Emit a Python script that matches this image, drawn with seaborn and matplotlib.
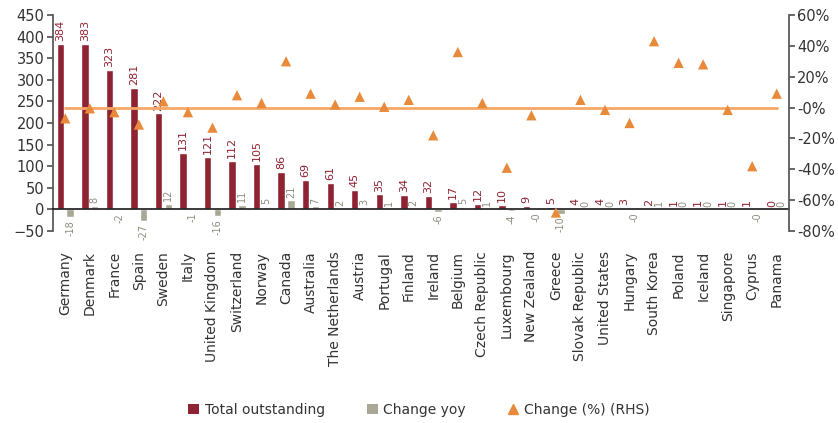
import matplotlib
matplotlib.use("Agg")
import matplotlib.pyplot as plt
import matplotlib.ticker as mticker
from matplotlib.lines import Line2D
from matplotlib.patches import Patch
import numpy as np
import pandas as pd
import seaborn as sns

# Covered bonds outstanding by country (EUR bn), yearly change and change in %
countries = [
    "Germany", "Denmark", "France", "Spain", "Sweden", "Italy", "United Kingdom",
    "Switzerland", "Norway", "Canada", "Australia", "The Netherlands", "Austria",
    "Portugal", "Finland", "Ireland", "Belgium", "Czech Republic", "Luxembourg",
    "New Zealand", "Greece", "Slovak Republic", "United States", "Hungary",
    "South Korea", "Poland", "Iceland", "Singapore", "Cyprus", "Panama",
]
total_outstanding = [384, 383, 323, 281, 222, 131, 121, 112, 105, 86, 69, 61, 45,
                     35, 34, 32, 17, 12, 10, 9, 5, 4, 4, 3, 2, 1, 1, 1, 1, 0]
change_yoy = [-18, 8, -2, -27, 12, -1, -16, 11, 5, 21, 7, 2, 3,
              1, 2, -6, 5, 1, -4, -0.4, -10, 0, 0, -0.3, 1, 0, 0, 0, -0.4, 0]
change_pct = [-7, -0.5, -3, -11, 4, -3, -13, 8, 3, 30, 9, 2, 7,
              0.5, 5, -18, 36, 3, -39, -5, -68, 5, -1.5, -10, 43, 29, 28, -1.5, -38, 9]

series_names = ["Total outstanding", "Change yoy", "Change (%) (RHS)"]
RED = "#8E2333"
GREY = "#A9A795"
ORANGE = "#E88A3A"
LINE_ORANGE = "#F4A868"
TEXT = "#333333"

sns.set_theme(style="white")
plt.rcParams["font.family"] = ["DejaVu Sans"]

n = len(countries)
fig = plt.figure(figsize=(8.38, 4.23), dpi=100)
ax = fig.add_axes([53 / 838, 1 - 231 / 423, (789 - 53) / 838, (231 - 15) / 423])

bars = pd.DataFrame({
    "Country": countries * 2,
    "Value": total_outstanding + change_yoy,
    "Series": [series_names[0]] * n + [series_names[1]] * n,
})
sns.barplot(data=bars, x="Country", y="Value", hue="Series", order=countries,
            hue_order=series_names[:2], palette=[RED, GREY], width=0.8, gap=0.25,
            saturation=1, errorbar=None, legend=False, ax=ax)

ax.bar_label(ax.containers[0], labels=[f"{v:.0f}" for v in total_outstanding],
             rotation=90, padding=2, fontsize=8, color=RED)
ax.bar_label(ax.containers[1], labels=[f"{v:.0f}" for v in change_yoy],
             rotation=90, padding=2, fontsize=7, color="#8f8d80")

ax.set_ylim(-50, 450)
ax.set_yticks(np.arange(-50, 451, 50))
ax.set_xlabel("")
ax.set_ylabel("")

# right-hand axis for the percentage change
ax2 = ax.twinx()
ax2.set_ylim(-0.8, 0.6)
ax2.axhline(0, xmin=0.5 / n, xmax=(n - 0.5) / n, color=LINE_ORANGE, lw=2, zorder=1)
pct = pd.DataFrame({"Country": countries, "Change": np.array(change_pct) / 100})
sns.scatterplot(data=pct, x="Country", y="Change", marker="^", s=55, color=ORANGE,
                edgecolor="none", legend=False, zorder=3, ax=ax2)
ax2.set_yticks(np.arange(-0.8, 0.61, 0.2))
ax2.yaxis.set_major_formatter(mticker.FuncFormatter(lambda v, p: f"{v * 100:.0f}%"))
ax2.set_xlabel("")
ax2.set_ylabel("")

ax.set_xlim(-0.5, n - 0.5)
ax.set_xticks(range(n))
ax.set_xticklabels(countries)
ax.set_xticks(np.arange(-0.5, n, 1), minor=True)

for a in (ax, ax2):
    a.grid(False)
    a.spines["top"].set_visible(False)
ax.spines["right"].set_visible(False)
ax2.spines["left"].set_visible(False)
ax2.spines["bottom"].set_visible(False)
ax.spines["bottom"].set_position(("data", 0))
ax.spines["bottom"].set_color("#222222")
ax.spines["left"].set_color("#555555")
ax2.spines["right"].set_color("#555555")

ax.tick_params(axis="x", which="major", length=0, pad=30, labelsize=10,
               labelcolor=TEXT, labelrotation=90)
ax.tick_params(axis="x", which="minor", length=4, direction="out", color="#222222")
ax.tick_params(axis="y", left=True, length=4, direction="out", labelsize=10.5,
               labelcolor=TEXT, color="#555555", pad=2)
ax2.tick_params(axis="y", right=True, length=4, direction="out", labelsize=10.5,
                labelcolor=TEXT, color="#555555", pad=2)
for lbl in ax.get_xticklabels():
    lbl.set_rotation(90)
    lbl.set_va("top")
    lbl.set_ha("center")

handles = [
    Patch(facecolor=RED, edgecolor="none"),
    Patch(facecolor=GREY, edgecolor="none"),
    Line2D([], [], marker="^", ls="none", color=ORANGE, markersize=7),
]
fig.legend(handles, series_names, loc="center", bbox_to_anchor=(0.5, 0.031), ncol=3,
           frameon=False, fontsize=10, handlelength=0.8, handleheight=0.8,
           handletextpad=0.4, columnspacing=3.0, labelcolor=TEXT)

fig.savefig("out.png", dpi=100)
